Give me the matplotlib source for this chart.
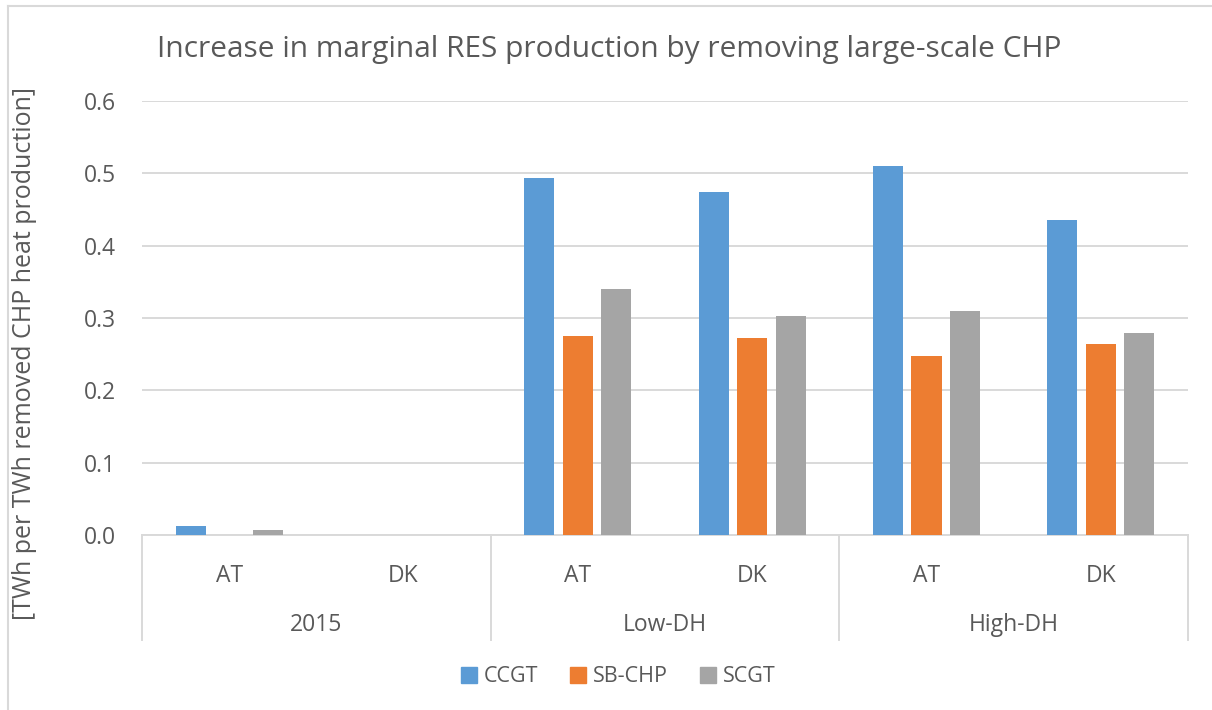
import matplotlib
matplotlib.use('Agg')
import matplotlib.pyplot as plt
import matplotlib.patches as mpatches
import matplotlib.transforms as mtransforms
from matplotlib.lines import Line2D
import numpy as np

plt.rcParams['font.family'] = ['Open Sans', 'DejaVu Sans']

# data
groups = ["2015", "Low-DH", "High-DH"]
countries = ["AT", "DK", "AT", "DK", "AT", "DK"]
series = ["CCGT", "SB-CHP", "SCGT"]
ccgt = [0.013, 0.0, 0.494, 0.474, 0.510, 0.436]
sb_chp = [0.0, 0.0, 0.275, 0.272, 0.247, 0.264]
scgt = [0.007, 0.0, 0.340, 0.303, 0.310, 0.279]
colors = ["#5B9BD5", "#ED7D31", "#A5A5A5"]

TXT = "#595959"
GRID = "#D9D9D9"
FS = 16.5

fig = plt.figure(figsize=(12.12, 7.10), dpi=100)
ax = fig.add_axes([142/1212, 175/710, 1046/1212, 434/710])

x = np.arange(len(countries))
step = 0.221
w = 0.173
for i, (vals, c) in enumerate(zip([ccgt, sb_chp, scgt], colors)):
    ax.bar(x + (i - 1) * step, vals, w, color=c, zorder=3)

ax.set_xlim(-0.5, len(countries) - 0.5)
ax.set_ylim(0, 0.6)
yt = np.arange(0, 0.61, 0.1)
ax.set_yticks(yt)
ax.set_yticklabels([f"{v:.1f}" for v in yt], fontsize=FS, color=TXT)
ax.tick_params(axis='y', length=0, pad=19)
ax.yaxis.grid(True, color=GRID, linewidth=1.4, zorder=0)
ax.set_xticks(x)
ax.set_xticklabels(countries, fontsize=FS, color=TXT)
ax.tick_params(axis='x', length=0, pad=21)
for s in ["top", "right", "left"]:
    ax.spines[s].set_visible(False)
ax.spines["bottom"].set_color(GRID)
ax.spines["bottom"].set_linewidth(1.4)

# two-level category axis
trans = mtransforms.blended_transform_factory(ax.transData, ax.transAxes)
for sep in [-0.5, 1.5, 3.5, 5.5]:
    ax.plot([sep, sep], [0, -0.242], transform=trans, color=GRID, linewidth=1.4, clip_on=False)
for gi, g in enumerate(groups):
    ax.text(gi * 2 + 0.5, -0.207, g, transform=trans, ha="center", va="center",
            fontsize=FS, color=TXT)

ax.set_ylabel("[TWh per TWh removed CHP heat production]", fontsize=18, color=TXT)
ax.yaxis.set_label_coords(-0.100, 0.419)

fig.text(0.503, 1 - 50/710, "Increase in marginal RES production by removing large-scale CHP",
         ha="center", va="center", fontsize=21.5, color=TXT)

handles = [mpatches.Patch(color=c, label=s) for s, c in zip(series, colors)]
leg = fig.legend(handles=handles, loc="center", bbox_to_anchor=(0.51, 33/710), ncol=3,
                 frameon=False, fontsize=15.5, handlelength=0.75, handleheight=0.75,
                 handletextpad=0.3, columnspacing=1.5)
for t in leg.get_texts():
    t.set_color(TXT)

# chart frame
fig.add_artist(Line2D([8/1212, 1], [1 - 6/710, 1 - 6/710], transform=fig.transFigure, color=GRID, linewidth=1.5))
fig.add_artist(Line2D([8/1212, 8/1212], [0, 1 - 6/710], transform=fig.transFigure, color=GRID, linewidth=1.5))

fig.savefig("out.png", dpi=100, facecolor="white")
